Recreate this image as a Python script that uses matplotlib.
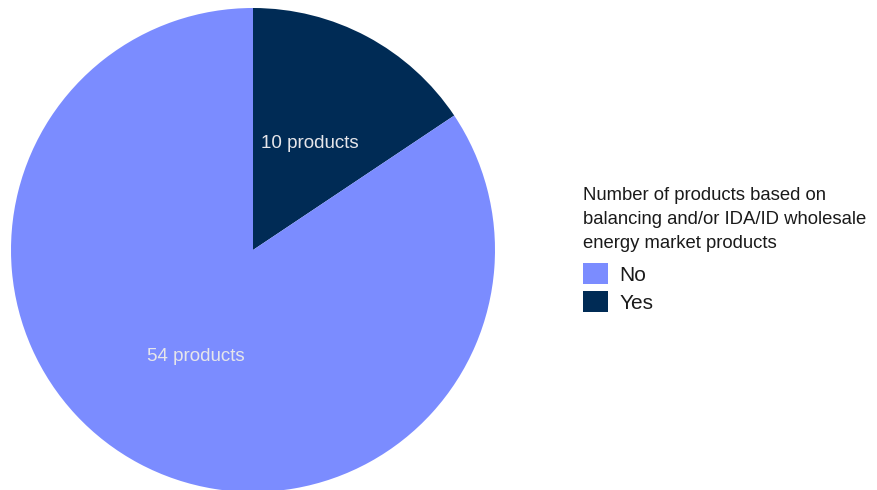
import matplotlib
matplotlib.use('Agg')
from matplotlib import pyplot as plt

plt.rcParams['font.family'] = ['Liberation Sans', 'DejaVu Sans']

# product counts per answer (drawn clockwise from the top)
answers   = ['Yes', 'No']
counts    = [10, 54]
colors    = ['#002B55', '#7B8CFF']
labels    = [str(c) + ' products' for c in counts]
leg_order = ['No', 'Yes']
leg_title = 'Number of products based on\nbalancing and/or IDA/ID wholesale\nenergy market products'

fig = plt.figure(figsize=(8.77, 4.90), dpi=100)
ax  = fig.add_axes([11/877, -2/490, 484/877, 484/490])

wedges, texts = ax.pie(counts, labels=labels, colors=colors, startangle=90,
                       counterclock=False, labeldistance=0.5, radius=1.0,
                       wedgeprops=dict(linewidth=0),
                       textprops=dict(color='#E6E6EA', fontsize=13.5, ha='center', va='center'))
ax.set_xlim(-1, 1)
ax.set_ylim(-1, 1)
ax.set_aspect('equal')
ax.axis('off')

# legend title as separate text so the line spacing can be controlled
fig.text(583/877, 1 - 187/490, leg_title, fontsize=13.3, linespacing=1.52,
         ha='left', va='top', color='#1a1a1a')

handles = [wedges[answers.index(a)] for a in leg_order]
leg = fig.legend(handles, leg_order, loc='upper left',
                 bbox_to_anchor=(583/877, 1 - 263/490),
                 fontsize=15, frameon=False,
                 handlelength=1.2, handleheight=1.2,
                 handletextpad=0.55, labelspacing=0.3, borderaxespad=0, borderpad=0)
for t in leg.get_texts():
    t.set_color('#1a1a1a')

plt.savefig('out.png', dpi=100)
